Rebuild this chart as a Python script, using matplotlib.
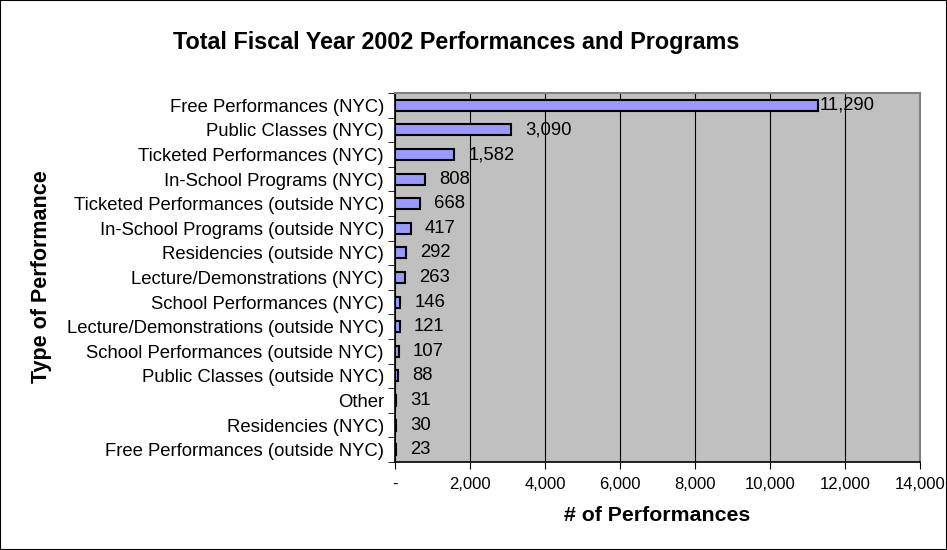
import matplotlib
matplotlib.use("Agg")
import matplotlib.pyplot as plt
from matplotlib.ticker import FuncFormatter, MultipleLocator
from matplotlib.patches import Rectangle

plt.rcParams['font.family'] = ['Liberation Sans', 'DejaVu Sans']

categories = [
    "Free Performances (NYC)",
    "Public Classes (NYC)",
    "Ticketed Performances (NYC)",
    "In-School Programs (NYC)",
    "Ticketed Performances (outside NYC)",
    "In-School Programs (outside NYC)",
    "Residencies (outside NYC)",
    "Lecture/Demonstrations (NYC)",
    "School Performances (NYC)",
    "Lecture/Demonstrations (outside NYC)",
    "School Performances (outside NYC)",
    "Public Classes (outside NYC)",
    "Other",
    "Residencies (NYC)",
    "Free Performances (outside NYC)",
]
values = [11290, 3090, 1582, 808, 668, 417, 292, 263, 146, 121, 107, 88, 31, 30, 23]

fig = plt.figure(figsize=(9.47, 5.5), dpi=100)
fig.patches.append(Rectangle((0, 0), 1, 1, transform=fig.transFigure,
                             fill=False, edgecolor='black', linewidth=1.5))

W, H = 947, 550
left, right, top, bottom = 395, 920, 93, 462
ax = fig.add_axes([left / W, 1 - bottom / H, (right - left) / W, (bottom - top) / H])
ax.set_facecolor('#C0C0C0')

n = len(categories)
ypos = list(range(n))
ax.barh(ypos, values, height=0.45, color='#9999FF', edgecolor='black',
        linewidth=1.5, zorder=3)
vmax = max(values)
for y, v in zip(ypos, values):
    pad = 1.0 if v == vmax else 10.0
    ax.annotate(f"{v:,}", (v, y), xytext=(pad, 0), textcoords='offset points',
                va='center', ha='left', fontsize=13.3, zorder=4)

ax.set_xlim(0, 14000)
ax.set_ylim(n - 0.5, -0.5)
ax.xaxis.set_major_locator(MultipleLocator(2000))
ax.xaxis.set_major_formatter(FuncFormatter(lambda x, p: '-' if x == 0 else f"{int(x):,}"))
ax.grid(axis='x', color='black', linewidth=0.8, zorder=1)
ax.set_axisbelow(True)

ax.set_yticks(ypos)
ax.set_yticklabels(categories, fontsize=13.3)
ax.tick_params(axis='y', length=0, pad=8)
ax.tick_params(axis='x', labelsize=12, length=5, direction='out', pad=6)
# category boundary ticks on the left spine
ax.set_yticks([i - 0.5 for i in range(n + 1)], minor=True)
ax.tick_params(axis='y', which='minor', length=5, direction='out')

for side in ['top', 'right']:
    ax.spines[side].set_color('#808080')
    ax.spines[side].set_linewidth(1.5)
ax.spines['left'].set_color('black')
ax.spines['bottom'].set_color('black')
ax.spines['left'].set_linewidth(1.2)
ax.spines['bottom'].set_linewidth(1.2)

ax.set_xlabel('# of Performances', fontsize=15.3, fontweight='bold', labelpad=10)
fig.text(42 / W, 1 - 277 / H, 'Type of Performance', rotation=90, fontsize=15.5,
         fontweight='bold', ha='center', va='center')
fig.text(456 / W, 1 - 42 / H, 'Total Fiscal Year 2002 Performances and Programs',
         fontsize=16.8, fontweight='bold', ha='center', va='center')

fig.savefig('out.png', dpi=100)
